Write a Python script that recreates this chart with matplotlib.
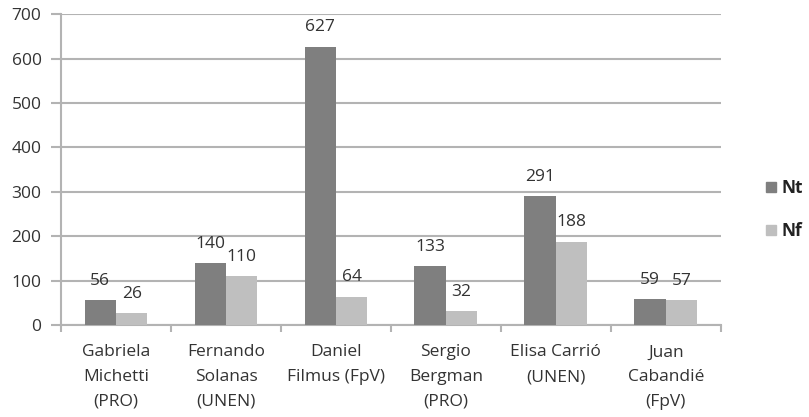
import matplotlib
matplotlib.use("Agg")
import matplotlib.pyplot as plt
import numpy as np
from matplotlib.lines import Line2D

categories = ["Gabriela\nMichetti\n(PRO)", "Fernando\nSolanas\n(UNEN)", "Daniel\nFilmus (FpV)",
              "Sergio\nBergman\n(PRO)", "Elisa Carrió\n(UNEN)", "Juan\nCabandié\n(FpV)"]
nt = [56, 140, 627, 133, 291, 59]
nf = [26, 110, 64, 32, 188, 57]
series_names = ["Nt", "Nf"]
yticks = [0, 100, 200, 300, 400, 500, 600, 700]

FONT = ['Open Sans', 'DejaVu Sans']
plt.rcParams['font.family'] = FONT
text_color = '#333333'
grid_color = '#b3b3b3'
c_nt = '#7f7f7f'
c_nf = '#bfbfbf'
FS = 12.5

fig = plt.figure(figsize=(8.09, 4.17), dpi=100)
ax = fig.add_axes([0.0754, 0.2206, 0.8156, 0.7454])

x = np.arange(len(categories))
w = 1 / 3.5
b1 = ax.bar(x - w / 2, nt, width=w, color=c_nt, zorder=3)
b2 = ax.bar(x + w / 2, nf, width=w, color=c_nf, zorder=3)

for bars, vals in ((b1, nt), (b2, nf)):
    for rect, v in zip(bars, vals):
        ax.annotate(str(v), (rect.get_x() + rect.get_width() / 2, rect.get_height()),
                    xytext=(0, 8), textcoords='offset points', ha='center', va='bottom',
                    fontsize=FS, color=text_color)

ax.set_xlim(-0.5, len(categories) - 0.5)
ax.set_ylim(0, 700)
ax.set_yticks(yticks)
ax.set_yticklabels([str(t) for t in yticks], fontsize=FS, color=text_color)
ax.yaxis.grid(True, color=grid_color, linewidth=1.5, zorder=0)
ax.set_axisbelow(True)

ax.set_xticks(np.arange(len(categories) + 1) - 0.5, minor=False)
ax.set_xticklabels([])
ax.set_xticks(x, minor=True)
ax.set_xticklabels(categories, minor=True, fontsize=FS, color=text_color, linespacing=1.72)
ax.tick_params(axis='x', which='major', length=5, width=1.5, color=grid_color, direction='out')
ax.tick_params(axis='x', which='minor', length=0, pad=14)
ax.tick_params(axis='y', length=7, width=1.5, color=grid_color, pad=7)

for s in ('top', 'right'):
    ax.spines[s].set_visible(False)
for s in ('left', 'bottom'):
    ax.spines[s].set_color(grid_color)
    ax.spines[s].set_linewidth(1.5)

handles = [Line2D([], [], marker='s', linestyle='none', markersize=7.5, markerfacecolor=c,
                  markeredgecolor=c) for c in (c_nt, c_nf)]
leg = fig.legend(handles, series_names, loc='center left', bbox_to_anchor=(0.944, 0.497),
                 frameon=False, handletextpad=0.25, labelspacing=1.45, handlelength=0.8,
                 borderpad=0.0, borderaxespad=0.0,
                 prop={'weight': 'bold', 'size': FS, 'family': FONT})
for t in leg.get_texts():
    t.set_color('#222222')

fig.savefig("out.png", dpi=100)
